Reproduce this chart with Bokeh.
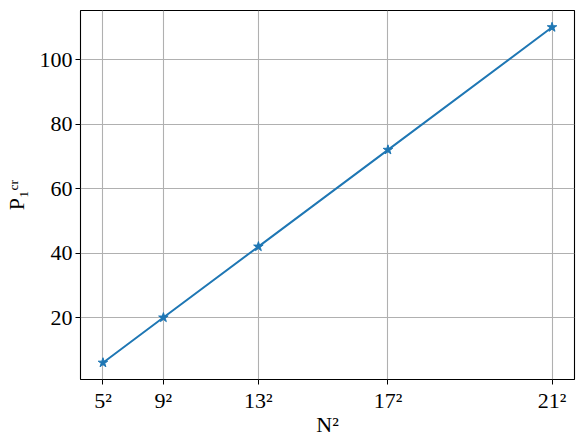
from bokeh.plotting import figure
from bokeh.models import FixedTicker, Range1d
from bokeh.embed import file_html
from bokeh.resources import INLINE

N_values = [5, 9, 13, 17, 21]
x_values = [n * n for n in N_values]
x_labels = ["5²", "9²", "13²", "17²", "21²"]
p_cr = [6, 20, 42, 72, 110]
y_ticks = [20, 40, 60, 80, 100]

FONT = "Liberation Serif"

xpad = (max(x_values) - min(x_values)) * 0.05
ypad = (max(p_cr) - min(p_cr)) * 0.05

p = figure(width=584, height=444, output_backend="svg", toolbar_location=None,
           x_range=Range1d(min(x_values) - xpad, max(x_values) + xpad),
           y_range=Range1d(min(p_cr) - ypad, max(p_cr) + ypad),
           min_border_left=78, min_border_right=10, min_border_top=10, min_border_bottom=65)

p.line(x_values, p_cr, line_color="#1f77b4", line_width=2)
p.scatter(x_values, p_cr, marker="star", size=10, fill_color="#1f77b4", line_color="#1f77b4")

p.xaxis.ticker = FixedTicker(ticks=x_values)
p.xaxis.major_label_overrides = {x: l for x, l in zip(x_values, x_labels)}
p.yaxis.ticker = FixedTicker(ticks=y_ticks)

for ax in (p.xaxis[0], p.yaxis[0]):
    ax.major_label_text_font = FONT
    ax.major_label_text_font_size = "22px"
    ax.major_label_text_color = "black"
    ax.axis_label_text_font = FONT
    ax.axis_label_text_font_size = "22px"
    ax.axis_label_text_font_style = "normal"
    ax.axis_label_text_color = "black"
    ax.major_tick_out = 5
    ax.major_tick_in = 0
    ax.minor_tick_out = 0
    ax.minor_tick_in = 0
    ax.major_tick_line_color = "black"
    ax.axis_line_color = None
    ax.major_label_standoff = 3

p.xaxis.axis_label = "N²"
p.yaxis.axis_label = "P₁ᶜʳ"
p.xaxis.axis_label_standoff = -4
p.yaxis.axis_label_standoff = 8

p.outline_line_color = "black"
p.outline_line_width = 1.1
p.xgrid.ticker = FixedTicker(ticks=x_values)
p.ygrid.ticker = FixedTicker(ticks=y_ticks)
p.grid.grid_line_color = "#b0b0b0"
p.grid.grid_line_width = 1.1

open("out.html", "w").write(file_html(p, INLINE))
